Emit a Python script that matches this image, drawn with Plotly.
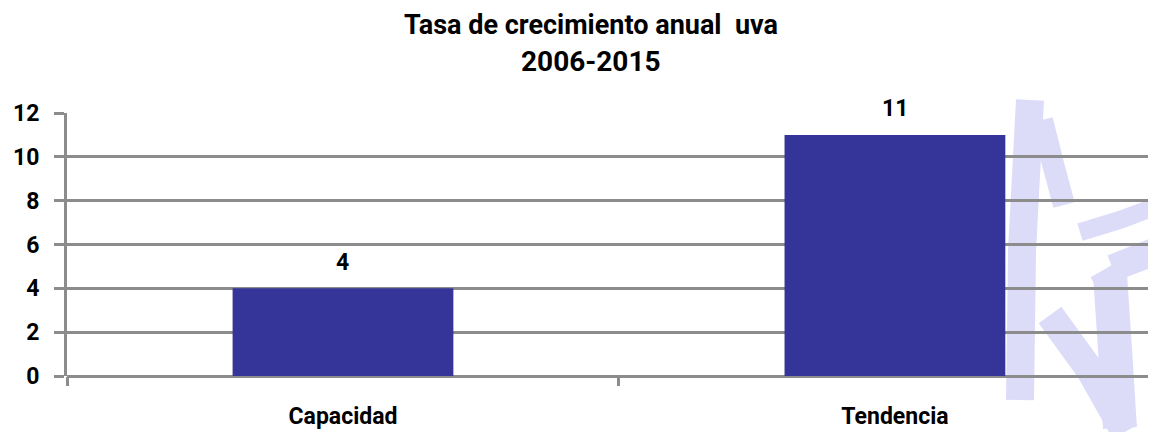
import plotly.graph_objects as go

categories = ["Capacidad", "Tendencia"]
values = [4, 11]
y_ticks = [0, 2, 4, 6, 8, 10, 12]
title_lines = ["Tasa de crecimiento anual  uva", "2006-2015"]

# page has an 8px body margin: size the figure so the screenshot lines up
OFF = 8
W, H = 1156 - OFF, 432 - OFF
L, R, T, B = 67 - OFF, 0, 113 - OFF, 56
PW, PH = W - L - R, H - T - B
FONT = "Roboto"
GRID = "#8c8c8c"

def px(xs):
    return (xs - OFF - L) / PW

def py(ys):
    return (H - B - (ys - OFF)) / PH

fig = go.Figure()
fig.add_trace(go.Bar(
    x=categories, y=values, width=0.40,
    marker=dict(color="#353499", line=dict(width=0)),
    hoverinfo="x+y",
))

# value labels above bars
for c, v in zip(categories, values):
    fig.add_annotation(x=c, y=v, text=str(v), showarrow=False,
                       yanchor="middle", yshift=26,
                       font=dict(family=FONT, size=23, color="black", weight="bold"))

# two-line title
for txt, yp, fs in zip(title_lines, [25, 61], [27, 28]):
    fig.add_annotation(xref="paper", yref="paper", x=px(591), y=py(yp),
                       text=txt, showarrow=False, xanchor="center", yanchor="middle",
                       font=dict(family=FONT, size=fs, color="black", weight="bold"))

# light watermark (decorative, behind the chart)
wm = "#dcdcf9"
strokes = [
    ([(1030, 100), (1022, 250), (1020, 400)], 28),
    ([(1042, 120), (1052, 160), (1064, 205)], 22),
    ([(1080, 232), (1120, 220), (1160, 205)], 18),
    ([(1110, 262), (1135, 252), (1160, 242)], 14),
    ([(1095, 285), (1125, 268), (1152, 258)], 18),
    ([(1110, 275), (1115, 350), (1120, 428)], 34),
    ([(1050, 315), (1090, 370), (1125, 432)], 28),
]
for pts, wdt in strokes:
    path = "M " + " L ".join(f"{px(a):.4f},{py(b):.4f}" for a, b in pts)
    fig.add_shape(type="path", path=path, xref="paper", yref="paper",
                  line=dict(color=wm, width=wdt), layer="below")

fig.update_layout(
    width=W, height=H,
    margin=dict(l=L, r=R, t=T, b=B),
    paper_bgcolor="white", plot_bgcolor="rgba(0,0,0,0)",
    showlegend=False,
)
fig.update_xaxes(
    range=[-0.5, 1.473], showgrid=False, showline=False, automargin=False,
    ticks="outside", tickson="boundaries", ticklen=9, tickwidth=3, tickcolor=GRID,
    tickfont=dict(family=FONT, size=23, color="black", weight="bold"),
    ticklabelstandoff=24, zeroline=False,
)
fig.update_yaxes(
    range=[0, 12], tickvals=y_ticks, showgrid=True, gridcolor=GRID, gridwidth=3,
    showline=True, linecolor=GRID, linewidth=3, automargin=False,
    ticks="outside", ticklen=10, tickwidth=3, tickcolor=GRID,
    tickfont=dict(family=FONT, size=23, color="black", weight="bold"),
    ticklabelstandoff=10, zeroline=True, zerolinecolor=GRID, zerolinewidth=3,
)
fig.write_html("out.html")
